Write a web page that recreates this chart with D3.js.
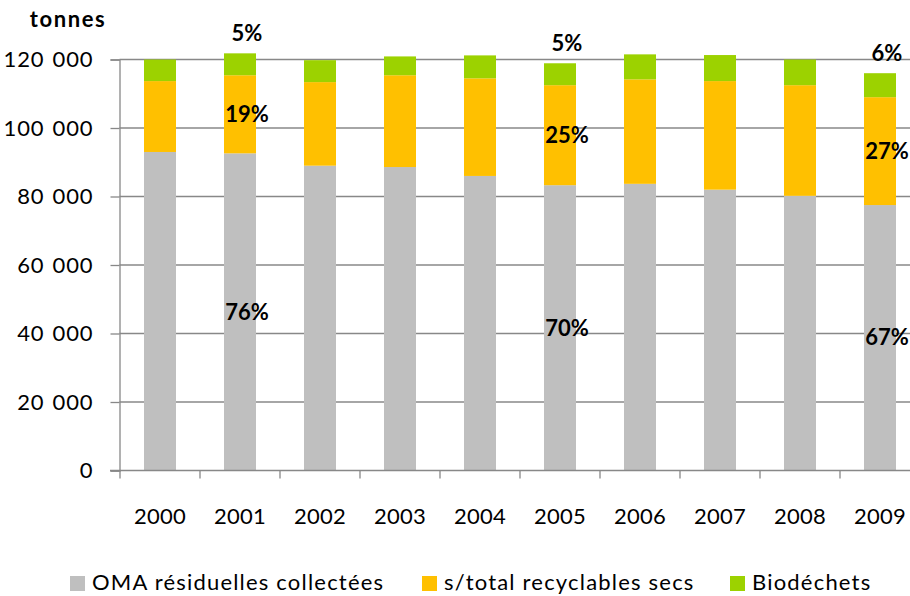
<!DOCTYPE html>
<html><head><meta charset="utf-8">
<script src="https://cdn.jsdelivr.net/npm/d3@7"></script>
<style>body{margin:0;background:#fff}svg{display:block}text{font-family:Lato,"Open Sans",sans-serif;fill:#000}</style>
</head><body><svg id="c" width="910" height="596"></svg>
<script>
const years = ["2000","2001","2002","2003","2004","2005","2006","2007","2008","2009"];
const oma = [93000, 92600, 89000, 88600, 86000, 83300, 83700, 82000, 80200, 77500];
const recyclables = [20700, 22800, 24400, 26800, 28500, 29200, 30500, 31700, 32300, 31500];
const biodechets = [6300, 6400, 6400, 5500, 6700, 6400, 7300, 7600, 7500, 7000];
const seriesNames = ["OMA résiduelles collectées", "s/total recyclables secs", "Biodéchets"];
const seriesColors = ["#BFBFBF", "#FFC000", "#9CD200"];
const yTicks = [0, 20000, 40000, 60000, 80000, 100000, 120000];
const labelYears = ["2001", "2005", "2009"];

const svg = d3.select("#c");
const x = d3.scaleBand().domain(years).range([120, 920]).paddingInner(0.6).paddingOuter(0.3);
const y = d3.scaleLinear().domain([0, 120000]).range([470.5, 59.5]);
const fmt = v => d3.format(",")(v).replace(/,/g, " ");

// gridlines + y axis
const ya = svg.append("g").attr("transform", "translate(119.5,0)")
  .call(d3.axisLeft(y).tickValues(yTicks).tickSize(9).tickPadding(17).tickFormat(fmt));
ya.select(".domain").attr("stroke", "#888").attr("stroke-width", 1.3);
ya.selectAll(".tick line").attr("stroke", "#888").attr("stroke-width", 1.3);
ya.selectAll(".tick text").attr("font-size", 22).attr("font-family", "Lato, sans-serif").attr("fill", "#000")
  .attr("word-spacing", 1.5).attr("letter-spacing", 0.9);
svg.append("g").selectAll("line").data(yTicks.filter(d => d > 0)).join("line")
  .attr("x1", 119.5).attr("x2", 910).attr("y1", d => y(d)).attr("y2", d => y(d))
  .attr("stroke", "#888").attr("stroke-width", 1.3);

// stacked bars
const data = years.map((yr, i) => ({year: yr, v: [oma[i], recyclables[i], biodechets[i]]}));
const stack = d3.stack().keys([0, 1, 2]).value((d, k) => d.v[k]);
const layers = stack(data);
svg.append("g").selectAll("g").data(layers).join("g").attr("fill", (d, i) => seriesColors[i])
  .selectAll("rect").data(d => d).join("rect")
  .attr("x", d => x(d.data.year)).attr("width", x.bandwidth())
  .attr("y", d => y(d[1])).attr("height", d => y(d[0]) - y(d[1]));

// x axis
const xa = svg.append("g").attr("transform", "translate(0,470.5)");
xa.append("line").attr("x1", 110).attr("x2", 910).attr("stroke", "#888").attr("stroke-width", 1.3);
const bounds = years.map(yr => x(yr) - x.step() * x.paddingInner() / 2).concat([920]);
xa.selectAll("line.t").data(bounds).join("line").attr("class", "t")
  .attr("x1", d => d).attr("x2", d => d).attr("y1", 0).attr("y2", 8)
  .attr("stroke", "#888").attr("stroke-width", 1.3);
xa.selectAll("text").data(years).join("text")
  .attr("x", d => x(d) + x.bandwidth() / 2).attr("y", 53)
  .attr("text-anchor", "middle").attr("font-size", 22).attr("letter-spacing", 0.3).text(d => d);

// title unit
svg.append("text").attr("x", 68).attr("y", 27).attr("text-anchor", "middle")
  .attr("font-size", 22).attr("letter-spacing", 1.6).attr("font-weight", "bold").text("tonnes");

// data labels
const lab = svg.append("g").attr("font-weight", "bold").attr("font-size", 22).attr("text-anchor", "middle");
layers.forEach((layer, k) => {
  layer.forEach(d => {
    if (!labelYears.includes(d.data.year)) return;
    const total = d3.sum(d.data.v);
    const pct = Math.round(100 * d.data.v[k] / total) + "%";
    const cx = x(d.data.year) + x.bandwidth() / 2 + 7;
    const cy = k === 2 ? y(d[1]) - 20 : (y(d[0]) + y(d[1])) / 2;
    lab.append("text").attr("x", cx).attr("y", cy).attr("dy", "0.35em").text(pct);
  });
});

// legend
const lg = svg.append("g");
const legX = [70, 422, 730];
seriesNames.forEach((n, i) => {
  lg.append("rect").attr("x", legX[i]).attr("y", 576).attr("width", 15).attr("height", 15).attr("fill", seriesColors[i]);
  lg.append("text").attr("x", legX[i] + 22).attr("y", 590).attr("font-size", 22).attr("letter-spacing", 1.2).text(n);
});
</script></body></html>
